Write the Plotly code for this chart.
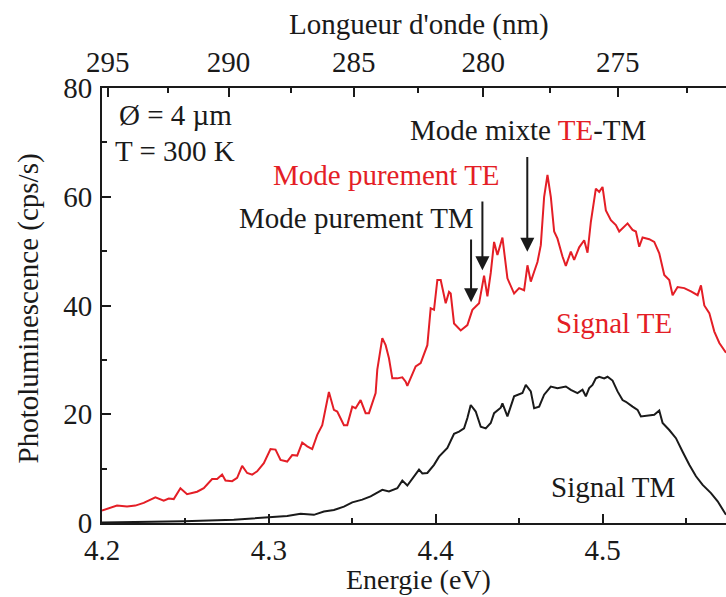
import plotly.graph_objects as go

# ---- data ----
energy_te = [4.200, 4.209, 4.215, 4.220, 4.225, 4.232, 4.237, 4.240, 4.243, 4.247, 4.251, 4.257, 4.261,
             4.266, 4.269, 4.272, 4.274, 4.278, 4.281, 4.284, 4.287, 4.290, 4.293, 4.297, 4.301, 4.304,
             4.307, 4.311, 4.314, 4.317, 4.320, 4.323, 4.326, 4.329, 4.332, 4.334, 4.336, 4.339, 4.341,
             4.345, 4.347, 4.350, 4.352, 4.355, 4.358, 4.360, 4.362, 4.364, 4.365, 4.368, 4.370, 4.372,
             4.374, 4.377, 4.380, 4.382, 4.383, 4.385, 4.388, 4.391, 4.393, 4.395, 4.397, 4.399, 4.401,
             4.403, 4.406, 4.408, 4.409, 4.411, 4.415, 4.419, 4.422, 4.424, 4.426, 4.429, 4.431, 4.433,
             4.435, 4.437, 4.440, 4.443, 4.447, 4.450, 4.453, 4.455, 4.457, 4.459, 4.461, 4.463, 4.465,
             4.467, 4.469, 4.471, 4.473, 4.476, 4.478, 4.481, 4.483, 4.486, 4.489, 4.491, 4.493, 4.496,
             4.498, 4.500, 4.502, 4.505, 4.508, 4.510, 4.512, 4.515, 4.518, 4.520, 4.522, 4.524, 4.528,
             4.531, 4.534, 4.537, 4.540, 4.542, 4.545, 4.549, 4.553, 4.557, 4.559, 4.561, 4.564, 4.567,
             4.570, 4.574]
signal_te = [2.3, 3.2, 3.05, 3.2, 3.7, 4.7, 4.1, 4.5, 4.4, 6.4, 5.3, 5.75, 6.4,
             8.1, 8.1, 8.9, 7.8, 7.7, 8.3, 10.5, 9.2, 8.9, 9.5, 11.0, 13.6, 13.5,
             11.6, 11.3, 12.5, 12.4, 14.8, 14.1, 13.6, 16.2, 18.0, 21.0, 24.1, 20.8, 20.5,
             18.0, 18.0, 21.4, 21.1, 22.6, 20.2, 20.2, 22.0, 23.9, 28.2, 34.0, 32.7, 30.3,
             26.6, 26.6, 26.8, 26.0, 25.2, 26.6, 28.8, 29.4, 30.9, 32.7, 39.5, 39.2, 44.7,
             44.7, 40.4, 42.5, 42.2, 36.7, 35.4, 36.4, 39.2, 39.8, 40.4, 45.5, 41.7, 46.0,
             51.7, 49.3, 52.5, 45.0, 42.2, 43.2, 42.8, 47.4, 44.4, 46.2, 48.0, 51.1, 60.0,
             64.0, 60.0, 53.6, 52.3, 49.0, 47.3, 49.9, 48.4, 50.7, 52.0, 49.7, 55.4, 61.5,
             60.9, 61.8, 57.5, 55.7, 54.8, 53.6, 54.2, 55.1, 53.9, 53.6, 50.8, 52.5, 52.2,
             51.7, 49.6, 45.6, 44.7, 41.9, 43.4, 43.2, 42.6, 41.9, 43.7, 40.0, 38.6, 35.2,
             33.1, 31.3]

energy_tm = [4.200, 4.249, 4.279, 4.299, 4.311, 4.319, 4.327, 4.333, 4.339, 4.345, 4.350, 4.356, 4.361,
             4.368, 4.372, 4.377, 4.380, 4.383, 4.390, 4.392, 4.395, 4.399, 4.402, 4.407, 4.411, 4.414,
             4.417, 4.419, 4.421, 4.424, 4.427, 4.430, 4.433, 4.435, 4.439, 4.440, 4.443, 4.447, 4.450,
             4.452, 4.454, 4.457, 4.459, 4.462, 4.465, 4.469, 4.473, 4.478, 4.481, 4.485, 4.488, 4.490,
             4.492, 4.494, 4.496, 4.498, 4.501, 4.503, 4.506, 4.509, 4.512, 4.514, 4.518, 4.521, 4.523,
             4.527, 4.531, 4.534, 4.536, 4.540, 4.544, 4.548, 4.552, 4.556, 4.560, 4.565, 4.569, 4.574]
signal_tm = [0.1, 0.3, 0.6, 1.0, 1.3, 1.7, 1.5, 2.1, 2.4, 3.0, 3.8, 4.3, 4.9,
             6.1, 5.8, 6.4, 7.8, 6.9, 9.8, 9.1, 9.2, 10.7, 12.2, 13.8, 16.4, 16.8,
             17.4, 19.3, 21.7, 20.5, 17.7, 17.4, 18.4, 20.2, 21.2, 22.0, 19.6, 23.3, 23.6,
             23.9, 25.4, 24.2, 21.1, 21.4, 23.6, 25.1, 24.8, 25.1, 24.5, 23.9, 24.5, 23.3,
             24.8, 25.4, 26.6, 26.9, 26.6, 26.9, 26.2, 24.2, 22.6, 22.3, 21.4, 20.8, 19.6,
             19.7, 19.9, 20.7, 18.4, 17.1, 15.6, 13.1, 10.7, 8.6, 7.0, 5.5, 4.0, 1.5]

energy_ticks = [4.2, 4.3, 4.4, 4.5]
energy_minor = [4.25, 4.35, 4.45, 4.55]
pl_ticks = [0, 20, 40, 60, 80]
pl_minor = [10, 30, 50, 70]
wavelength_major = [295, 290, 285, 280, 275]
wavelength_minor = [292.5, 287.5, 282.5, 277.5, 272.5]
HC = 1240.0  # eV*nm conversion

RED = "#e41e26"
INK = "#1a1a1a"
FONT = "Liberation Serif, Times New Roman, serif"
FS = 29

fig = go.Figure()
fig.add_trace(go.Scatter(x=energy_te, y=signal_te, mode="lines",
                         line=dict(color=RED, width=2), showlegend=False))
fig.add_trace(go.Scatter(x=energy_tm, y=signal_tm, mode="lines",
                         line=dict(color=INK, width=2), showlegend=False))
# invisible trace so the top (wavelength) axis is drawn
fig.add_trace(go.Scatter(x=[None], y=[None], xaxis="x2", mode="lines", showlegend=False,
                         hoverinfo="skip"))

xr = [4.2, 4.574]
tick_common = dict(showgrid=False, zeroline=False, showline=True, linecolor=INK, linewidth=2,
                   ticks="inside", ticklen=9, tickwidth=1.5, tickcolor=INK, automargin=False,
                   tickfont=dict(size=FS, family=FONT, color=INK))
fig.update_layout(
    width=726, height=597,
    margin=dict(l=102, r=0, t=88, b=74),
    plot_bgcolor="white", paper_bgcolor="white",
    font=dict(family=FONT, size=FS, color=INK),
    xaxis=dict(range=xr, tickvals=energy_ticks, ticktext=[f"{v:.1f}" for v in energy_ticks],
               minor=dict(tickvals=energy_minor, ticks="inside", ticklen=5, tickcolor=INK,
                          tickwidth=1.5),
               ticklabelstandoff=0, **tick_common),
    xaxis2=dict(range=xr, overlaying="x", side="top",
                tickvals=[HC / w for w in wavelength_major],
                ticktext=[str(w) for w in wavelength_major],
                minor=dict(tickvals=[HC / w for w in wavelength_minor], ticks="inside", ticklen=5,
                           tickcolor=INK, tickwidth=1.5),
                ticklabelstandoff=2, **tick_common),
    yaxis=dict(range=[0, 80], tickvals=pl_ticks,
               minor=dict(tickvals=pl_minor, ticks="inside", ticklen=5, tickcolor=INK,
                          tickwidth=1.5),
               ticklabelstandoff=2, **tick_common),
)

# axis titles
fig.add_annotation(x=0.508, y=-0.131, xref="paper", yref="paper", text="Energie (eV)",
                   showarrow=False, xanchor="center", yanchor="middle", font=dict(size=28))
fig.add_annotation(x=0.508, y=1.146, xref="paper", yref="paper", text="Longueur d'onde (nm)",
                   showarrow=False, xanchor="center", yanchor="middle", font=dict(size=FS))
fig.add_annotation(x=-0.118, y=0.494, xref="paper", yref="paper",
                   text="Photoluminescence (cps/s)", textangle=-90,
                   showarrow=False, xanchor="center", yanchor="middle", font=dict(size=FS))


def label(x, y, text, color=INK, anchor="center"):
    fig.add_annotation(x=x, y=y, xref="x", yref="y", text=text, showarrow=False,
                       xanchor=anchor, yanchor="middle", font=dict(family=FONT, size=FS, color=color))


label(4.2092, 75.0, "Ø = 4 µm", anchor="left")
label(4.2068, 68.4, "T = 300 K", anchor="left")
label(4.3708, 64.0, "Mode purement TE", color=RED)
label(4.3526, 56.1, "Mode purement TM")
label(4.4553, 72.2, f"Mode mixte <span style='color:{RED}'>TE</span>-TM")
label(4.5071, 36.8, "Signal TE", color=RED)
label(4.5065, 6.7, "Signal TM")


def arrow(x, y_tail, y_head):
    fig.add_annotation(x=x, y=y_head, ax=x, ay=y_tail, xref="x", yref="y", axref="x", ayref="y",
                       text="", showarrow=True, arrowhead=2, arrowsize=1.4, arrowwidth=2,
                       arrowcolor=INK)


arrow(4.4212, 52.4, 40.6)
arrow(4.4280, 59.4, 46.5)
arrow(4.4549, 67.6, 49.9)

fig.write_html("out.html", config={"displayModeBar": False},
               post_script="document.body.style.margin='0px';document.body.style.overflow='hidden';")
